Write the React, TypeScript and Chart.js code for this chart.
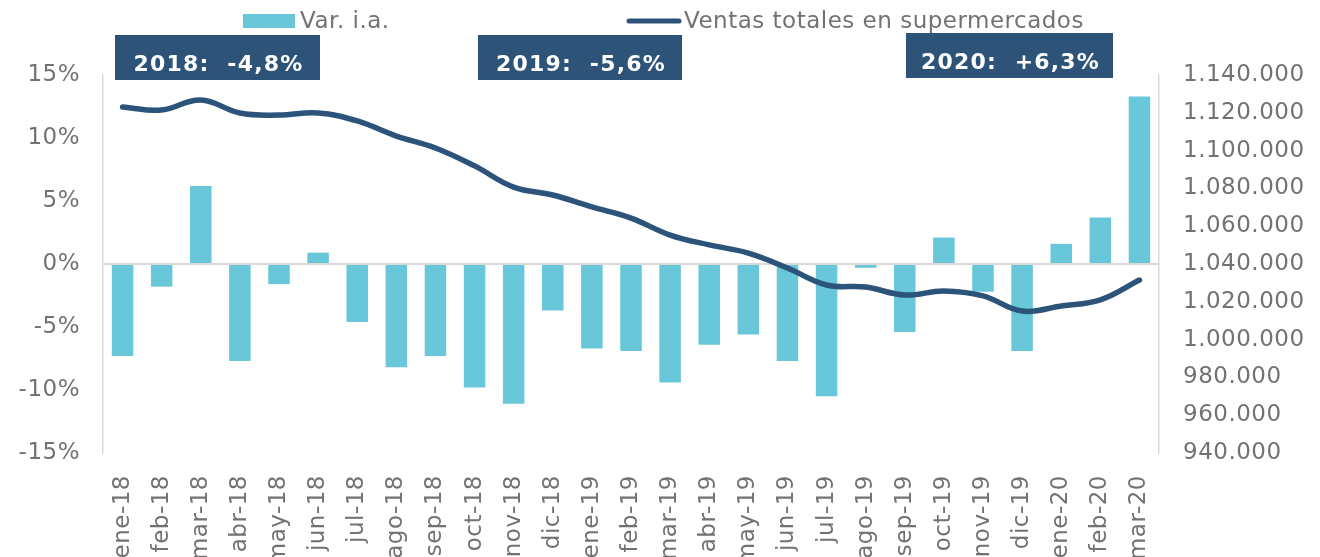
import React, { useEffect, useRef } from "react";
import { Chart, registerables } from "chart.js";

Chart.register(...registerables);

const categories = [
  "ene-18", "feb-18", "mar-18", "abr-18", "may-18", "jun-18", "jul-18", "ago-18", "sep-18",
  "oct-18", "nov-18", "dic-18", "ene-19", "feb-19", "mar-19", "abr-19", "may-19", "jun-19",
  "jul-19", "ago-19", "sep-19", "oct-19", "nov-19", "dic-19", "ene-20", "feb-20", "mar-20",
];

const varIA = [
  -7.3, -1.8, 6.2, -7.7, -1.6, 0.9, -4.6, -8.2, -7.3,
  -9.8, -11.1, -3.7, -6.7, -6.9, -9.4, -6.4, -5.6, -7.7,
  -10.5, -0.3, -5.4, 2.1, -2.2, -6.9, 1.6, 3.7, 13.3,
];

const ventas = [
  1123100, 1121500, 1126800, 1119900, 1118800, 1119900, 1115700, 1107700, 1101400,
  1091900, 1080700, 1076500, 1070200, 1064300, 1055300, 1050100, 1045800, 1037900,
  1028900, 1027800, 1023600, 1025700, 1023100, 1015100, 1017800, 1021000, 1031500,
];

const legendLabels = ["Var. i.a.", "Ventas totales en supermercados"];
const annotations = ["2018:  -4,8%", "2019:  -5,6%", "2020:  +6,3%"];

const BAR_COLOR = "#68c8d9";
const LINE_COLOR = "#2c5379";
const BOX_COLOR = "#2d5478";
const GRAY = "#767171";
const AXIS_GRAY = "#d9d9d9";
const FONT = '"DejaVu Sans", Verdana, sans-serif';

function fmtThousands(v: number): string {
  const s = Math.round(v).toString();
  return s.replace(/\B(?=(\d{3})+(?!\d))/g, ".");
}

const spacingPlugin = {
  id: "spacing",
  beforeLayout(chart: any) {
    chart.ctx.letterSpacing = "0.5px";
  },
  beforeDraw(chart: any) {
    chart.ctx.letterSpacing = "0.5px";
  },
};

const overlayPlugin = {
  id: "overlay",
  afterDraw(chart: any) {
    const ctx = chart.ctx as CanvasRenderingContext2D;
    ctx.save();
    // legend
    ctx.fillStyle = BAR_COLOR;
    ctx.fillRect(243, 14, 52, 14);
    ctx.font = `23px ${FONT}`;
    (ctx as any).letterSpacing = "0.5px";
    ctx.fillStyle = GRAY;
    ctx.textBaseline = "alphabetic";
    ctx.textAlign = "left";
    ctx.fillText(legendLabels[0], 300, 28);
    ctx.strokeStyle = LINE_COLOR;
    ctx.lineWidth = 5;
    ctx.lineCap = "round";
    ctx.beginPath();
    ctx.moveTo(629, 21);
    ctx.lineTo(679, 21);
    ctx.stroke();
    ctx.fillText(legendLabels[1], 684, 28);

    // annotation boxes
    const boxes = [
      { x0: 115, x1: 320, y0: 35, y1: 80 },
      { x0: 478, x1: 682, y0: 35, y1: 80 },
      { x0: 906, x1: 1113, y0: 33, y1: 78 },
    ];
    ctx.font = `bold 22px ${FONT}`;
    (ctx as any).letterSpacing = "1.2px";
    ctx.textAlign = "center";
    boxes.forEach((b, i) => {
      ctx.fillStyle = BOX_COLOR;
      ctx.fillRect(b.x0, b.y0, b.x1 - b.x0, b.y1 - b.y0);
      ctx.fillStyle = "#ffffff";
      ctx.fillText(annotations[i], (b.x0 + b.x1) / 2 + 1, b.y1 - 9);
    });
    ctx.restore();
  },
};

export default function App() {
  const canvasRef = useRef<HTMLCanvasElement | null>(null);

  useEffect(() => {
    const canvas = canvasRef.current;
    if (!canvas) return;
    const chart = new Chart(canvas, {
      type: "bar",
      data: {
        labels: categories,
        datasets: [
          {
            type: "line",
            label: legendLabels[1],
            data: ventas,
            yAxisID: "y1",
            borderColor: LINE_COLOR,
            backgroundColor: LINE_COLOR,
            borderWidth: 5.5,
            borderCapStyle: "round",
            borderJoinStyle: "round",
            pointRadius: 0,
            tension: 0.4,
            order: 0,
          } as any,
          {
            type: "bar",
            label: legendLabels[0],
            data: varIA,
            yAxisID: "y",
            backgroundColor: BAR_COLOR,
            borderWidth: 0,
            barPercentage: 0.55,
            categoryPercentage: 1,
            order: 1,
          },
        ],
      },
      plugins: [spacingPlugin, overlayPlugin],
      options: {
        responsive: false,
        animation: false,
        devicePixelRatio: 1,
        layout: { padding: { top: 75, left: 0, right: 0, bottom: 0 } },
        plugins: {
          legend: { display: false },
          tooltip: { enabled: false },
        },
        scales: {
          x: {
            grid: { display: false },
            border: { display: false },
            ticks: {
              autoSkip: false,
              maxRotation: 90,
              minRotation: 90,
              padding: 14,
              color: GRAY,
              font: { family: FONT, size: 23 },
            },
            afterFit(scale: any) {
              scale.height = 137;
            },
          },
          y: {
            position: "left",
            min: -15,
            max: 15,
            ticks: {
              stepSize: 5,
              padding: 23,
              color: GRAY,
              font: { family: FONT, size: 23 },
              callback: (v: any) => `${v}%`,
            },
            grid: {
              drawTicks: false,
              color: (c: any) => (c.tick && c.tick.value === 0 ? AXIS_GRAY : "rgba(0,0,0,0)"),
              lineWidth: 2,
            },
            border: { display: true, color: AXIS_GRAY, width: 1.5 },
            afterFit(scale: any) {
              scale.width = 103;
            },
          },
          y1: {
            position: "right",
            min: 940000,
            max: 1140000,
            ticks: {
              stepSize: 20000,
              padding: 24,
              color: GRAY,
              font: { family: FONT, size: 23 },
              callback: (v: any) => fmtThousands(Number(v)),
            },
            grid: { display: false, drawTicks: false },
            border: { display: true, color: AXIS_GRAY, width: 1.5 },
            afterFit(scale: any) {
              scale.width = 161;
            },
          },
        },
      } as any,
    });
    return () => chart.destroy();
  }, []);

  return (
    <div
      style={{
        position: "fixed",
        left: 0,
        top: 0,
        width: 1320,
        height: 557,
        overflow: "hidden",
        background: "#ffffff",
      }}
    >
      <canvas ref={canvasRef} width={1320} height={590} style={{ display: "block" }} />
    </div>
  );
}
